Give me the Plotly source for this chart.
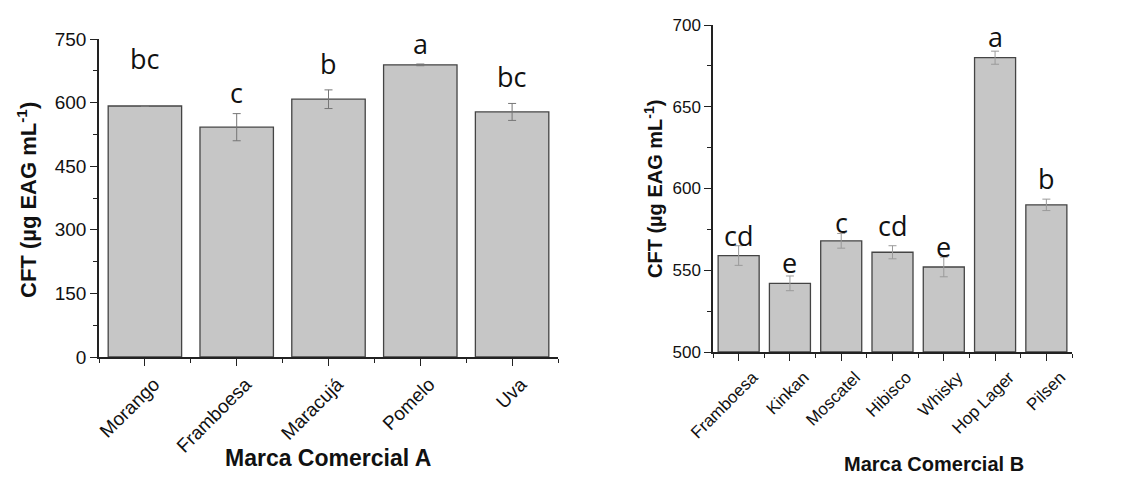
import plotly.graph_objects as go

# ---- data ----
cats_A = ["Morango", "Framboesa", "Maracujá", "Pomelo", "Uva"]
vals_A = [592, 542, 608, 689, 578]
err_A = [1, 32, 22, 2, 20]
letters_A = ["bc", "c", "b", "a", "bc"]
letter_y_A = [705, 625, 693, 740, 662]

cats_B = ["Framboesa", "Kinkan", "Moscatel", "Hibisco", "Whisky", "Hop Lager", "Pilsen"]
vals_B = [559, 542, 568, 561, 552, 680, 590]
err_B = [6, 4.5, 4.5, 4, 6, 4, 3.5]
letters_B = ["cd", "e", "c", "cd", "e", "a", "b"]
letter_y_B = [571.5, 554.5, 579.5, 577.5, 564.5, 693, 606]

W, H = 1123, 477
BAR_FILL = "#c6c6c6"
BAR_LINE = "#444444"
AX = "#222222"
TICKFONT = "Liberation Sans, Arial, sans-serif"
LETTERFONT = "Open Sans, Noto Sans, sans-serif"

fig = go.Figure()

fig.add_trace(go.Bar(
    x=list(range(len(cats_A))), y=vals_A, width=0.8,
    marker=dict(color=BAR_FILL, line=dict(color=BAR_LINE, width=1.3)),
    error_y=dict(type="data", array=err_A, visible=True, color="#767676", thickness=1, width=4),
    xaxis="x", yaxis="y", showlegend=False, hoverinfo="skip"))

fig.add_trace(go.Bar(
    x=list(range(len(cats_B))), y=[v - 500 for v in vals_B], base=500, width=0.8,
    marker=dict(color=BAR_FILL, line=dict(color=BAR_LINE, width=1.3)),
    error_y=dict(type="data", array=err_B, visible=True, color="#9a9a9a", thickness=1, width=4),
    xaxis="x2", yaxis="y2", showlegend=False, hoverinfo="skip"))

def xax(domain, cats, fs, anchor, shift):
    n = len(cats)
    return dict(domain=domain, anchor=anchor, range=[-0.5, n - 0.5], automargin=False,
                tickmode="array", tickvals=list(range(n)), ticktext=cats,
                tickangle=-45, ticks="outside", ticklen=7, tickwidth=1.2, tickcolor=AX,
                ticklabelshift=shift,
                minor=dict(tickvals=[i + 0.5 for i in range(-1, n)], ticks="outside",
                           ticklen=4, tickwidth=1, tickcolor=AX),
                showline=True, linecolor=AX, linewidth=1.5, showgrid=False, zeroline=False,
                tickfont=dict(family=TICKFONT, size=fs, color="#111"))

def yax(domain, rng, dtick, mdtick, fs, anchor):
    return dict(domain=domain, anchor=anchor, range=rng, tickmode="linear", tick0=rng[0], dtick=dtick,
                automargin=False,
                ticks="outside", ticklen=7, tickwidth=1.2, tickcolor=AX,
                minor=dict(dtick=mdtick, tick0=rng[0], ticks="outside", ticklen=4, tickwidth=1, tickcolor=AX),
                showline=True, linecolor=AX, linewidth=1.5, showgrid=False, zeroline=False,
                tickfont=dict(family=TICKFONT, size=fs, color="#111"))

yA = [(H - 357) / H, (H - 39) / H]
yB = [(H - 352) / H, (H - 25) / H]

fig.update_layout(
    width=W, height=H, margin=dict(l=0, r=0, t=0, b=0, autoexpand=False),
    paper_bgcolor="white", plot_bgcolor="white",
    xaxis=xax([99 / W, 558 / W], cats_A, 19, "y", 9),
    yaxis=yax(yA, [0, 750], 150, 75, 19, "x"),
    xaxis2=xax([713 / W, 1072 / W], cats_B, 17, "y2", 14),
    yaxis2=yax(yB, [500, 700], 50, 25, 17, "x2"),
    bargap=0.2,
)

ann = []
for i, (t, yv) in enumerate(zip(letters_A, letter_y_A)):
    ann.append(dict(x=i, y=yv, xref="x", yref="y", text=t, showarrow=False,
                    font=dict(family=LETTERFONT, size=27, color="#111"),
                    xanchor="center", yanchor="middle"))
for i, (t, yv) in enumerate(zip(letters_B, letter_y_B)):
    ann.append(dict(x=i, y=yv, xref="x2", yref="y2", text=t, showarrow=False,
                    font=dict(family=LETTERFONT, size=27, color="#111"),
                    xanchor="center", yanchor="middle"))

ytitle = "CFT (µg EAG mL<sup>-1</sup>)"
ann.append(dict(x=27 / W, y=1 - 200 / H, xref="paper", yref="paper", text="<b>" + ytitle + "</b>",
                textangle=-90, showarrow=False, xanchor="center", yanchor="middle",
                font=dict(family=TICKFONT, size=22, color="#111")))
ann.append(dict(x=653 / W, y=1 - 189 / H, xref="paper", yref="paper", text="<b>" + ytitle + "</b>",
                textangle=-90, showarrow=False, xanchor="center", yanchor="middle",
                font=dict(family=TICKFONT, size=20, color="#111")))
ann.append(dict(x=328 / W, y=1 - 458 / H, xref="paper", yref="paper", text="<b>Marca Comercial A</b>",
                showarrow=False, xanchor="center", yanchor="middle",
                font=dict(family=TICKFONT, size=23, color="#111")))
ann.append(dict(x=934 / W, y=1 - 464 / H, xref="paper", yref="paper", text="<b>Marca Comercial B</b>",
                showarrow=False, xanchor="center", yanchor="middle",
                font=dict(family=TICKFONT, size=20, color="#111")))
fig.update_layout(annotations=ann)

fig.write_html("out.html")
